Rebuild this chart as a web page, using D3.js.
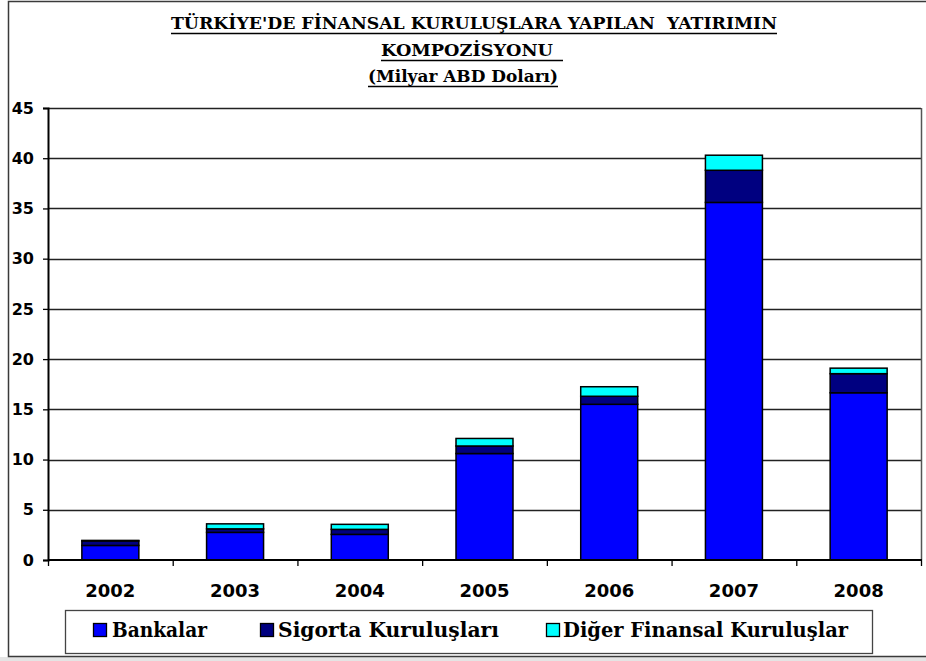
<!DOCTYPE html>
<html>
<head>
<meta charset="utf-8">
<script src="https://cdn.jsdelivr.net/npm/d3@7"></script>
<style>
  html, body { margin: 0; padding: 0; background: #fff; }
  svg { display: block; }
</style>
</head>
<body>
<div id="chart"></div>
<script>
// data (Milyar ABD Doları)
const years = ['2002', '2003', '2004', '2005', '2006', '2007', '2008'];
const seriesNames = ['Bankalar', 'Sigorta Kuruluşları', 'Diğer Finansal Kuruluşlar'];
const bankalar = [1.45, 2.75, 2.55, 10.6, 15.5, 35.6, 16.65];
const sigorta = [0.45, 0.35, 0.5, 0.75, 0.8, 3.2, 1.9];
const diger = [0.05, 0.5, 0.5, 0.75, 0.95, 1.5, 0.55];
const yTicks = [0, 5, 10, 15, 20, 25, 30, 35, 40, 45];
const titleLines = [
  "TÜRKİYE'DE FİNANSAL KURULUŞLARA YAPILAN  YATIRIMIN",
  'KOMPOZİSYONU',
  '(Milyar ABD Doları)'
];

const colors = ['#0000ff', '#000080', '#00ffff'];
const width = 926, height = 661;
const plot = { left: 48, right: 921, top: 108, bottom: 560 };

const svg = d3.select('#chart').append('svg')
  .attr('width', width)
  .attr('height', height);

svg.append('rect').attr('width', width).attr('height', height).attr('fill', '#fff');
svg.append('rect').attr('x', 0).attr('y', 657).attr('width', width).attr('height', 4).attr('fill', '#e4e4e4');
// outer chart frame
svg.append('rect')
  .attr('x', 8.5).attr('y', 1.5)
  .attr('width', 930).attr('height', 655)
  .attr('fill', 'none').attr('stroke', '#3a3a3a').attr('stroke-width', 1.5);

// title
const titleFont = '"DejaVu Serif", "Liberation Serif", serif';
const titleSpecs = [
  { x: 171, y: 29, len: 606 },
  { x: 381, y: 56, len: 172 },
  { x: 368, y: 82, len: 190 }
];
titleLines.forEach((t, i) => {
  const s = titleSpecs[i];
  svg.append('text')
    .attr('x', s.x).attr('y', s.y)
    .attr('textLength', s.len).attr('lengthAdjust', 'spacingAndGlyphs')
    .attr('font-family', titleFont).attr('font-weight', 'bold').attr('font-size', 17)
    .style('white-space', 'pre')
    .attr('fill', '#000')
    .text(t);
  svg.append('line')
    .attr('x1', s.x).attr('x2', s.x + s.len + (i === 1 ? 10 : 0))
    .attr('y1', s.y + 4.5).attr('y2', s.y + 4.5)
    .attr('stroke', '#000').attr('stroke-width', 1.6);
});

// scales
const xb = d3.scaleBand().domain(years).range([plot.left, plot.right]);
const x = d3.scaleBand().domain(years).range([plot.left, plot.right])
  .paddingInner(0.543).paddingOuter(0.2715);
const y = d3.scaleLinear().domain([0, 45]).range([plot.bottom, plot.top]);

// gridlines
svg.append('g')
  .selectAll('line')
  .data(yTicks.filter(d => d > 0))
  .enter().append('line')
  .attr('x1', plot.left).attr('x2', plot.right)
  .attr('y1', d => Math.round(y(d)) + 0.5).attr('y2', d => Math.round(y(d)) + 0.5)
  .attr('stroke', '#222').attr('stroke-width', 1.3);

// right border of plot area
svg.append('line')
  .attr('x1', plot.right + 0.5).attr('x2', plot.right + 0.5)
  .attr('y1', plot.top).attr('y2', plot.bottom)
  .attr('stroke', '#555').attr('stroke-width', 1.5);

// stacked bars
const table = years.map((yr, i) => ({ year: yr, b: bankalar[i], s: sigorta[i], d: diger[i] }));
const stack = d3.stack().keys(['b', 's', 'd'])(table);

svg.append('g')
  .selectAll('g')
  .data(stack)
  .enter().append('g')
  .attr('fill', (d, i) => colors[i])
  .selectAll('rect')
  .data(d => d)
  .enter().append('rect')
  .attr('x', d => x(d.data.year))
  .attr('y', d => y(d[1]))
  .attr('width', x.bandwidth())
  .attr('height', d => y(d[0]) - y(d[1]))
  .attr('stroke', '#000')
  .attr('stroke-width', 1.5);

// y axis
const yAxis = svg.append('g')
  .attr('transform', `translate(${plot.left},0)`)
  .call(d3.axisLeft(y).tickValues(yTicks).tickSize(5).tickPadding(9));
yAxis.select('.domain').attr('stroke', '#000').attr('stroke-width', 2);
yAxis.selectAll('.tick line').attr('stroke', '#000').attr('stroke-width', 1.3);
yAxis.selectAll('.tick text')
  .attr('font-family', '"DejaVu Sans", Verdana, sans-serif')
  .attr('font-weight', 'bold').attr('font-size', 16).attr('fill', '#000');

// x axis: ticks on the category boundaries
const xAxis = svg.append('g')
  .attr('transform', `translate(0,${plot.bottom})`);
xAxis.append('line')
  .attr('x1', plot.left).attr('x2', plot.right + 1)
  .attr('y1', 0).attr('y2', 0)
  .attr('stroke', '#000').attr('stroke-width', 2);
xAxis.selectAll('line.tk')
  .data(years.map(d => xb(d)).concat([plot.right]))
  .enter().append('line')
  .attr('class', 'tk')
  .attr('x1', d => d + 0.5).attr('x2', d => d + 0.5)
  .attr('y1', 0).attr('y2', 6)
  .attr('stroke', '#000').attr('stroke-width', 1.3);
xAxis.selectAll('text')
  .data(years)
  .enter().append('text')
  .attr('x', d => xb(d) + xb.bandwidth() / 2)
  .attr('y', 37)
  .attr('text-anchor', 'middle')
  .attr('font-family', '"DejaVu Sans", Verdana, sans-serif')
  .attr('font-weight', 'bold').attr('font-size', 18).attr('fill', '#000')
  .text(d => d);

// legend
const legend = svg.append('g');
legend.append('rect')
  .attr('x', 65.5).attr('y', 610.5).attr('width', 807).attr('height', 43)
  .attr('fill', '#fff').attr('stroke', '#444').attr('stroke-width', 1.3);
const legendItems = [
  { sx: 93, tx: 112, len: 95 },
  { sx: 260, tx: 278, len: 221 },
  { sx: 546, tx: 563, len: 285 }
];
const li = legend.selectAll('g.item')
  .data(seriesNames)
  .enter().append('g').attr('class', 'item');
li.append('rect')
  .attr('x', (d, i) => legendItems[i].sx + 0.5).attr('y', 623.5)
  .attr('width', 13).attr('height', 13)
  .attr('fill', (d, i) => colors[i]).attr('stroke', '#000').attr('stroke-width', 1.3);
li.append('text')
  .attr('x', (d, i) => legendItems[i].tx).attr('y', 637)
  .attr('textLength', (d, i) => legendItems[i].len).attr('lengthAdjust', 'spacingAndGlyphs')
  .attr('font-family', titleFont).attr('font-weight', 'bold').attr('font-size', 20)
  .attr('fill', '#000')
  .text(d => d);
</script>
</body>
</html>
